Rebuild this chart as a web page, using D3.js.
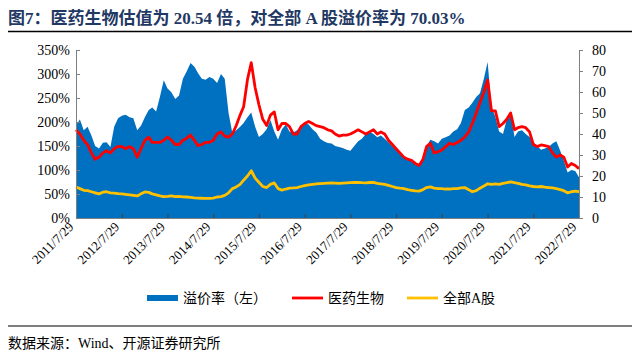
<!DOCTYPE html>
<html>
<head>
<meta charset="utf-8">
<script src="https://cdn.jsdelivr.net/npm/d3@7"></script>
<style>
  body { margin: 0; background: #fff; }
  svg { display: block; }
  text { font-family: "Liberation Serif", "Noto Sans CJK SC", serif; }
</style>
</head>
<body>
<div id="chart"></div>
<script>
// monthly readings, first point 2011/7/29
const startDate = new Date(2011, 6, 29);
const endDate = new Date(2022, 6, 29);

// 溢价率 (left axis, %)
const premium = [
  194, 205, 183, 190, 172, 150, 145, 157, 158, 148, 190, 208,
  213, 215, 210, 208, 183, 192, 210, 225, 230, 222, 252, 287,
  270, 262, 248, 255, 290, 305, 323, 315, 302, 290, 288, 294,
  290, 281, 300, 290, 218, 177, 183, 190, 198, 210, 220, 190,
  169, 175, 185, 204, 180, 163, 185, 195, 180, 178, 183, 190,
  198, 195, 185, 178, 165, 160, 156, 155, 150, 148, 146, 142,
  140, 150, 160, 165, 175, 180, 175, 168, 172, 165, 158, 150,
  142, 135, 128, 124, 120, 115, 110, 125, 150, 163, 160, 155,
  165, 168, 172, 180, 185, 198, 225, 230, 240, 252, 260, 290,
  325, 231, 211, 180, 175, 205, 218, 169, 180, 183, 175, 169,
  158, 150, 142, 145, 148, 155, 160, 140, 120, 95, 100, 98,
  85
];

// 医药生物 PE (right axis)
const pharma = [
  42, 40, 37, 35, 31, 28, 29, 31, 32, 31, 33, 34,
  34, 33, 34, 33, 29, 33, 37, 38.5, 36, 36, 36, 37,
  38.6, 37, 35, 35, 37, 38, 39.5, 37, 34.5, 35, 36, 36,
  37, 40, 41, 39, 38.5, 40, 44, 49, 53, 66, 74, 62,
  54, 47, 44, 49, 50.5, 42, 45, 45, 43.5, 40, 40, 43.5,
  45, 46, 45, 44, 43.5, 43, 42, 41.5, 40, 39, 39.5, 39.5,
  40, 41, 42, 41, 40, 41, 42, 40, 41, 40, 37, 35,
  33, 31, 29, 28, 27.5, 26, 25, 28, 34, 35.6, 31, 31.5,
  32.4, 34, 35.6, 35, 36, 37, 38.6, 41, 45, 50, 55, 60,
  65.7, 51, 51, 43.5, 45, 47, 50, 42, 43, 43.5, 43, 41,
  35, 34, 34.8, 34.5, 34, 31, 29, 30, 29, 24.3, 26, 25,
  23.5
];

// 全部A股 PE (right axis)
const allA = [
  14.8, 14, 13.2, 13, 12.5, 12, 11.5, 12.3, 12.5, 12, 11.8, 11.6,
  11.5, 11.2, 11, 10.8, 10.5, 11.5, 12.4, 12.2, 11.5, 11, 10.5, 10.2,
  10.3, 10.5, 10.2, 10.3, 10.1, 10, 9.8, 9.6, 9.5, 9.4, 9.3, 9.3,
  9.5, 10, 10.2, 10.8, 12, 14, 14.8, 16, 18, 20, 22.5, 19,
  17, 15, 14.5, 16, 16.7, 14, 13.3, 13.8, 14.2, 14.3, 14.5, 15,
  15.4, 15.8, 16, 16.2, 16.4, 16.5, 16.6, 16.7, 16.6, 16.5, 16.6, 16.7,
  16.8, 16.9, 17, 16.8, 16.7, 16.9, 17, 16.5, 16.3, 16, 15.5, 15,
  14.5, 14.2, 14, 13.5, 13.2, 12.9, 12.8, 13.5, 14.5, 14.8, 14.2, 14,
  14, 13.8, 13.8, 14, 14, 14.3, 14.5, 13.5, 12.5, 13, 14.2, 15.2,
  16.3, 16, 16.2, 16, 16.5, 16.8, 17.2, 16.8, 16.5, 16, 15.8, 15.3,
  15, 14.8, 15, 14.7, 14.5, 14.3, 14, 13.5, 13, 12, 12.5, 12.8,
  12.5
];

const leftTicks = [0, 0.5, 1, 1.5, 2, 2.5, 3, 3.5];
const rightTicks = [0, 10, 20, 30, 40, 50, 60, 70, 80];

const legendItems = [
  { name: '溢价率（左）', color: '#0070C0', type: 'rect' },
  { name: '医药生物', color: '#FF0000', type: 'line' },
  { name: '全部A股', color: '#FFC000', type: 'line' }
];

const width = 640;
const height = 360;
const margin = { top: 50, right: 61, bottom: 142, left: 76 };

const svg = d3.select('#chart')
    .append('svg')
    .attr('width', width)
    .attr('height', height);

const dates = premium.map((d, i) => d3.timeMonth.offset(startDate, i));

const x = d3.scaleTime()
    .domain([startDate, endDate])
    .range([margin.left, width - margin.right]);

const yLeft = d3.scaleLinear()
    .domain([0, 3.5])
    .range([height - margin.bottom, margin.top]);

const yRight = d3.scaleLinear()
    .domain([0, 80])
    .range([height - margin.bottom, margin.top]);

// titre
svg.append('text')
    .attr('x', 8)
    .attr('y', 24)
    .attr('fill', '#1f3864')
    .attr('font-size', 17)
    .attr('font-weight', 'bold')
    .text('图7：医药生物估值为 20.54 倍，对全部 A 股溢价率为 70.03%');

svg.append('line')
    .attr('x1', 8).attr('x2', 632)
    .attr('y1', 31.5).attr('y2', 31.5)
    .attr('stroke', '#000')
    .attr('stroke-width', 1.5);

// aire du溢价率
const area = d3.area()
    .x((d, i) => x(dates[i]))
    .y0(yLeft(0))
    .y1(d => yLeft(d / 100));

svg.append('path')
    .datum(premium)
    .attr('fill', '#0070C0')
    .attr('d', area);

const linePE = d3.line()
    .x((d, i) => x(dates[i]))
    .y(d => yRight(d));

svg.append('path')
    .datum(pharma)
    .attr('fill', 'none')
    .attr('stroke', '#FF0000')
    .attr('stroke-width', 2.8)
    .attr('stroke-linejoin', 'round')
    .attr('d', linePE);

svg.append('path')
    .datum(allA)
    .attr('fill', 'none')
    .attr('stroke', '#FFC000')
    .attr('stroke-width', 2.8)
    .attr('stroke-linejoin', 'round')
    .attr('d', linePE);

// axes
const axisColor = '#7f7f7f';

const yearTicks = d3.range(12).map(i => d3.timeYear.offset(startDate, i));

const xAxis = svg.append('g')
    .attr('transform', `translate(0,${height - margin.bottom})`)
    .call(d3.axisBottom(x)
        .tickValues(yearTicks)
        .tickSize(-4)
        .tickSizeOuter(0)
        .tickFormat(d3.timeFormat('%Y/%-m/%-d')));

xAxis.select('.domain').attr('stroke', axisColor);
xAxis.selectAll('.tick line').attr('stroke', '#404040');
xAxis.selectAll('.tick text')
    .attr('font-size', 13)
    .attr('fill', '#000')
    .attr('text-anchor', 'end')
    .attr('transform', 'translate(-5,7) rotate(-45)')
    .attr('dy', '0.3em')
    .attr('y', 0)
    .attr('x', 0);

const leftAxis = svg.append('g')
    .attr('transform', `translate(${margin.left},0)`)
    .call(d3.axisLeft(yLeft)
        .tickValues(leftTicks)
        .tickSize(-4)
        .tickSizeOuter(0)
        .tickPadding(6)
        .tickFormat(d => Math.round(d * 100) + '%'));

const rightAxis = svg.append('g')
    .attr('transform', `translate(${width - margin.right},0)`)
    .call(d3.axisRight(yRight)
        .tickValues(rightTicks)
        .tickSize(4)
        .tickSizeOuter(0)
        .tickPadding(9));

[leftAxis, rightAxis].forEach(g => {
    g.select('.domain').attr('stroke', axisColor);
    g.selectAll('.tick line').attr('stroke', axisColor);
    g.selectAll('.tick text')
        .attr('font-size', 14)
        .attr('fill', '#000');
});

// légende
const legendX = [147, 292, 407];
const legend = svg.append('g')
    .selectAll('g')
    .data(legendItems)
    .enter().append('g')
    .attr('transform', (d, i) => `translate(${legendX[i]},298)`);

legend.filter(d => d.type === 'rect').append('rect')
    .attr('x', 0).attr('y', -3)
    .attr('width', 31).attr('height', 6)
    .attr('fill', d => d.color);

legend.filter(d => d.type === 'line').append('line')
    .attr('x1', 0).attr('x2', 31)
    .attr('y1', 0).attr('y2', 0)
    .attr('stroke', d => d.color)
    .attr('stroke-width', 2.8);

legend.append('text')
    .attr('x', 36)
    .attr('y', 0)
    .attr('dy', '0.35em')
    .attr('font-size', 14)
    .attr('fill', '#000')
    .text(d => d.name);

// source
svg.append('line')
    .attr('x1', 8).attr('x2', 632)
    .attr('y1', 326).attr('y2', 326)
    .attr('stroke', '#000')
    .attr('stroke-width', 1.2);

svg.append('text')
    .attr('x', 8)
    .attr('y', 343)
    .attr('dy', '0.35em')
    .attr('font-size', 14)
    .attr('fill', '#000')
    .text('数据来源：Wind、开源证券研究所');
</script>
</body>
</html>
